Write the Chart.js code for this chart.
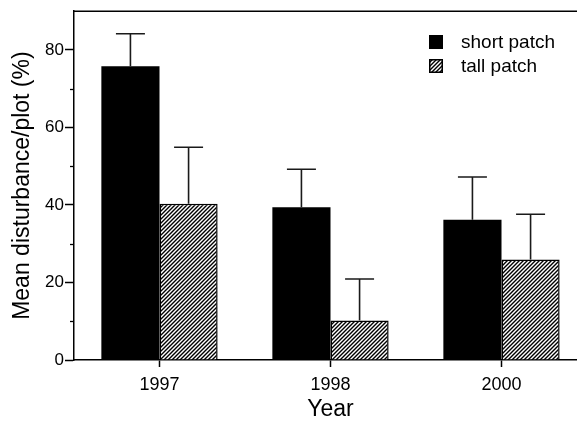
<!DOCTYPE html>
<html>
<head>
<meta charset="utf-8">
<script src="https://cdn.jsdelivr.net/npm/chart.js@4.4.1/dist/chart.umd.min.js"></script>
<style>
  html, body { margin: 0; padding: 0; overflow: hidden; background: #fff; }
  #wrap { position: relative; width: 590px; height: 421px; }
</style>
</head>
<body>
<div id="wrap"><canvas id="chart"></canvas></div>
<script>
/* data */
const years = ['1997', '1998', '2000'];
const shortPatch = [75.8, 39.4, 36.2];
const shortErr = [8.4, 9.8, 11.0];
const tallPatch = [40.3, 10.2, 25.9];
const tallErr = [14.6, 10.7, 11.7];
const seriesNames = ['short patch', 'tall patch'];
const yMajor = [0, 20, 40, 60, 80];

const FONT = '"Liberation Sans", Arial, Helvetica, sans-serif';

// hatch fill ////
function makeHatch() {
    const s = 4;
    const c = document.createElement('canvas');
    c.width = s; c.height = s;
    const g = c.getContext('2d');
    g.fillStyle = '#fff';
    g.fillRect(0, 0, s, s);
    g.strokeStyle = '#000';
    g.lineWidth = 1.4;
    g.beginPath();
    g.moveTo(0, s); g.lineTo(s, 0);
    g.moveTo(-1, 1); g.lineTo(1, -1);
    g.moveTo(s - 1, s + 1); g.lineTo(s + 1, s - 1);
    g.stroke();
    return g.createPattern(c, 'repeat');
}
const hatch = makeHatch();

// one-sided error bars, minor y ticks, top frame line, legend
const extras = {
    id: 'extras',
    afterDatasetsDraw(chart) {
        const ctx = chart.ctx;
        const y = chart.scales.y;
        const area = chart.chartArea;
        ctx.save();
        // error bars
        ctx.strokeStyle = '#1a1a1a';
        ctx.lineWidth = 1.6;
        chart.data.datasets.forEach((ds, i) => {
            const meta = chart.getDatasetMeta(i);
            meta.data.forEach((bar, j) => {
                const top = y.getPixelForValue(ds.data[j] + ds.errors[j]);
                ctx.beginPath();
                ctx.moveTo(bar.x, bar.y);
                ctx.lineTo(bar.x, top);
                ctx.moveTo(bar.x - 14.5, top);
                ctx.lineTo(bar.x + 14.5, top);
                ctx.stroke();
            });
        });
        // minor ticks
        ctx.strokeStyle = '#000';
        ctx.lineWidth = 1.3;
        for (let v = 10; v < 90; v += 20) {
            const py = Math.round(y.getPixelForValue(v)) + 0.5;
            ctx.beginPath();
            ctx.moveTo(area.left - 4, py);
            ctx.lineTo(area.left, py);
            ctx.stroke();
        }
        // top frame line
        ctx.lineWidth = 1.5;
        ctx.beginPath();
        ctx.moveTo(area.left, area.top);
        ctx.lineTo(area.right, area.top);
        ctx.stroke();
        // legend
        ctx.font = '19px ' + FONT;
        ctx.textBaseline = 'middle';
        ctx.textAlign = 'left';
        chart.data.datasets.forEach((ds, i) => {
            const ly = 42 + i * 24;
            ctx.fillStyle = ds.backgroundColor;
            ctx.fillRect(429, ly - 7, 14, 14);
            if (ds.borderWidth) {
                ctx.strokeStyle = '#000';
                ctx.lineWidth = 1.5;
                ctx.strokeRect(429.75, ly - 6.25, 12.5, 12.5);
            }
            ctx.fillStyle = '#000';
            ctx.fillText(ds.label, 461, ly + 1);
        });
        ctx.restore();
    }
};

new Chart(document.getElementById('chart'), {
    type: 'bar',
    data: {
        labels: years,
        datasets: [
            {
                label: seriesNames[0],
                data: shortPatch,
                errors: shortErr,
                backgroundColor: '#000',
                borderWidth: 0
            },
            {
                label: seriesNames[1],
                data: tallPatch,
                errors: tallErr,
                backgroundColor: hatch,
                borderColor: '#000',
                borderWidth: 1.5
            }
        ]
    },
    options: {
        responsive: true,
        maintainAspectRatio: false,
        animation: false,
        layout: { padding: { top: 10, right: 3, left: 0, bottom: 0 } },
        datasets: { bar: { categoryPercentage: 0.68, barPercentage: 1.0 } },
        plugins: {
            legend: { display: false },
            tooltip: { enabled: false }
        },
        scales: {
            x: {
                grid: { drawOnChartArea: false, offset: false, tickLength: 7, tickWidth: 1.5, tickColor: '#000' },
                border: { display: true, color: '#000', width: 1.5 },
                ticks: { color: '#000', font: { family: FONT, size: 18 }, padding: 7, maxRotation: 0 },
                title: { display: true, text: 'Year', color: '#000', font: { family: FONT, size: 23, lineHeight: 1 }, padding: { top: 0, bottom: 0 } },
                afterFit(scale) { scale.height = 61; }
            },
            y: {
                min: 0,
                max: 90,
                grid: {
                    drawOnChartArea: false,
                    tickLength: 9,
                    tickWidth: 1.5,
                    tickColor: ctx => yMajor.includes(ctx.tick.value) ? '#000' : 'rgba(0,0,0,0)'
                },
                border: { display: true, color: '#000', width: 1.5 },
                ticks: {
                    stepSize: 10,
                    color: '#000',
                    font: { family: FONT, size: 17 },
                    padding: 1,
                    callback: v => yMajor.includes(v) ? String(v) : ''
                },
                title: { display: true, text: 'Mean disturbance/plot (%)', color: '#000', font: { family: FONT, size: 23 }, padding: { top: 9, bottom: 0 } },
                afterFit(scale) { scale.width = 74; }
            }
        }
    },
    plugins: [extras]
});
</script>
</body>
</html>
